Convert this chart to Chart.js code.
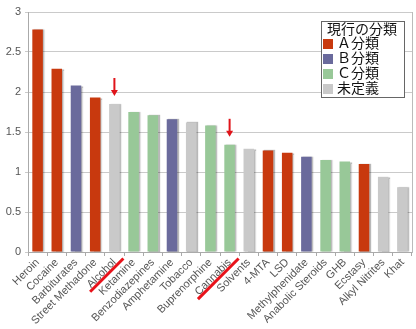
<!DOCTYPE html>
<html>
<head>
<meta charset="utf-8">
<script src="https://cdn.jsdelivr.net/npm/chart.js@4.4.1/dist/chart.umd.min.js"></script>
<style>
  html, body { margin: 0; padding: 0; background: #fff; }
  #wrap { position: relative; width: 416px; height: 329px; }
  #legend {
    position: absolute; left: 321px; top: 21px; width: 84px; height: 77px;
    box-sizing: border-box; border: 1px solid #666; background: #fff;
    font-family: "Noto Sans CJK JP", sans-serif; font-size: 14px; color: #111;
  }
  #legend .title { position: absolute; left: 5px; top: -1px; line-height: 15px; white-space: nowrap; }
  #legend .row { position: absolute; left: 1px; line-height: 15px; white-space: nowrap; }
  #legend .sw { display: inline-block; width: 10px; height: 10px; margin-right: 4px; vertical-align: -1px; }
</style>
</head>
<body>
<div id="wrap">
  <canvas id="c" width="416" height="329"></canvas>
  <div id="legend"></div>
</div>
<script>
// Harm scores per drug, sorted from most to least harmful
const categories = ['Heroin', 'Cocaine', 'Barbiturates', 'Street Methadone', 'Alcohol', 'Ketamine',
  'Benzodiazepines', 'Amphetamine', 'Tobacco', 'Buprenorphine', 'Cannabis', 'Solvents', '4-MTA',
  'LSD', 'Methylphenidate', 'Anabolic Steroids', 'GHB', 'Ecstasy', 'Alkyl Nitrites', 'Khat'];
const values = [2.78, 2.29, 2.08, 1.93, 1.85, 1.75, 1.71, 1.66, 1.62, 1.58, 1.34, 1.29, 1.27,
  1.24, 1.19, 1.15, 1.13, 1.10, 0.94, 0.81];
// Current legal class of each drug (index into classNames)
const classOf = [0, 0, 1, 0, 3, 2, 2, 1, 3, 2, 2, 3, 0, 0, 1, 2, 2, 0, 3, 3];
const classNames = ['Ａ分類', 'Ｂ分類', 'Ｃ分類', '未定義'];
const classColors = ['#c8390e', '#6a6a9c', '#98c898', '#c9c9c9'];
const legendTitle = '現行の分類';
const yTicks = { min: 0, max: 3, step: 0.5 };
// Drugs whose labels get crossed out with an arrow over the bar
const marked = ['Alcohol', 'Cannabis'];

const tickFont = { family: '"Liberation Sans", Arial, sans-serif', size: 11 };

const datasets = classNames.map((name, k) => ({
  label: name,
  data: values.map((v, i) => (classOf[i] === k ? v : null)),
  backgroundColor: classColors[k],
  grouped: false,
  barPercentage: 0.55,
  categoryPercentage: 1.0
}));

// soft shadow on the right side of each bar
const barShadow = {
  id: 'barShadow',
  beforeDatasetsDraw(chart) {
    const c = chart.ctx;
    c.save();
    c.shadowColor = 'rgba(0,0,0,0.28)';
    c.shadowOffsetX = 1.5;
    c.shadowOffsetY = 0;
    c.shadowBlur = 1;
  },
  afterDatasetsDraw(chart) { chart.ctx.restore(); }
};

// red arrows above marked bars and strike lines across their labels
const markings = {
  id: 'markings',
  afterDraw(chart) {
    const { ctx, scales: { x, y } } = chart;
    ctx.save();
    marked.forEach(name => {
      const i = categories.indexOf(name);
      const px = x.getPixelForValue(i);
      const top = y.getPixelForValue(values[i]);
      // arrow
      ctx.strokeStyle = '#e0141a';
      ctx.fillStyle = '#e0141a';
      ctx.lineWidth = 2;
      ctx.beginPath();
      ctx.moveTo(px, top - 26);
      ctx.lineTo(px, top - 13);
      ctx.stroke();
      ctx.beginPath();
      ctx.moveTo(px - 3.5, top - 14);
      ctx.lineTo(px + 3.5, top - 14);
      ctx.lineTo(px, top - 8);
      ctx.closePath();
      ctx.fill();
      // strike through the rotated label
      ctx.font = `${tickFont.size}px ${tickFont.family}`;
      const w = ctx.measureText(name).width;
      const L = w + 11;
      const x0 = px + 9, y0 = x.top + 6.5;
      ctx.strokeStyle = '#e8121a';
      ctx.lineWidth = 3;
      ctx.beginPath();
      ctx.moveTo(x0, y0);
      ctx.lineTo(x0 - L * Math.SQRT1_2, y0 + L * Math.SQRT1_2);
      ctx.stroke();
    });
    ctx.restore();
  }
};

new Chart(document.getElementById('c'), {
  type: 'bar',
  data: { labels: categories, datasets },
  options: {
    responsive: false,
    animation: false,
    layout: { padding: { top: 12, right: 4, left: 0, bottom: 0 } },
    plugins: { legend: { display: false }, tooltip: { enabled: false } },
    scales: {
      x: {
        grid: { display: true, drawOnChartArea: false, drawTicks: true, tickLength: 4, color: '#aaa', offset: true },
        border: { color: '#aaa' },
        ticks: { autoSkip: false, minRotation: 45, maxRotation: 45, color: '#555', font: tickFont, padding: 0 },
        afterFit(s) { s.height = 77; }
      },
      y: {
        min: yTicks.min, max: yTicks.max,
        ticks: { stepSize: yTicks.step, color: '#555', font: tickFont, padding: 4,
                 callback: v => String(Number(v)) },
        grid: { color: '#cacaca', tickLength: 3 },
        border: { color: '#aaa' },
        afterFit(s) { s.width = 28; }
      },
      yRight: {
        position: 'right',
        min: yTicks.min, max: yTicks.max,
        ticks: { display: false },
        grid: { drawOnChartArea: false, drawTicks: false },
        border: { color: '#bbb' },
        afterFit(s) { s.width = 0; }
      }
    }
  },
  plugins: [barShadow, markings]
});

// legend box listing the classes
const lg = document.getElementById('legend');
const t = document.createElement('div');
t.className = 'title';
t.textContent = legendTitle;
lg.appendChild(t);
classNames.forEach((name, k) => {
  const r = document.createElement('div');
  r.className = 'row';
  r.style.top = (13 + k * 15) + 'px';
  const sw = document.createElement('span');
  sw.className = 'sw';
  sw.style.background = classColors[k];
  r.appendChild(sw);
  r.appendChild(document.createTextNode(name));
  lg.appendChild(r);
});
</script>
</body>
</html>
